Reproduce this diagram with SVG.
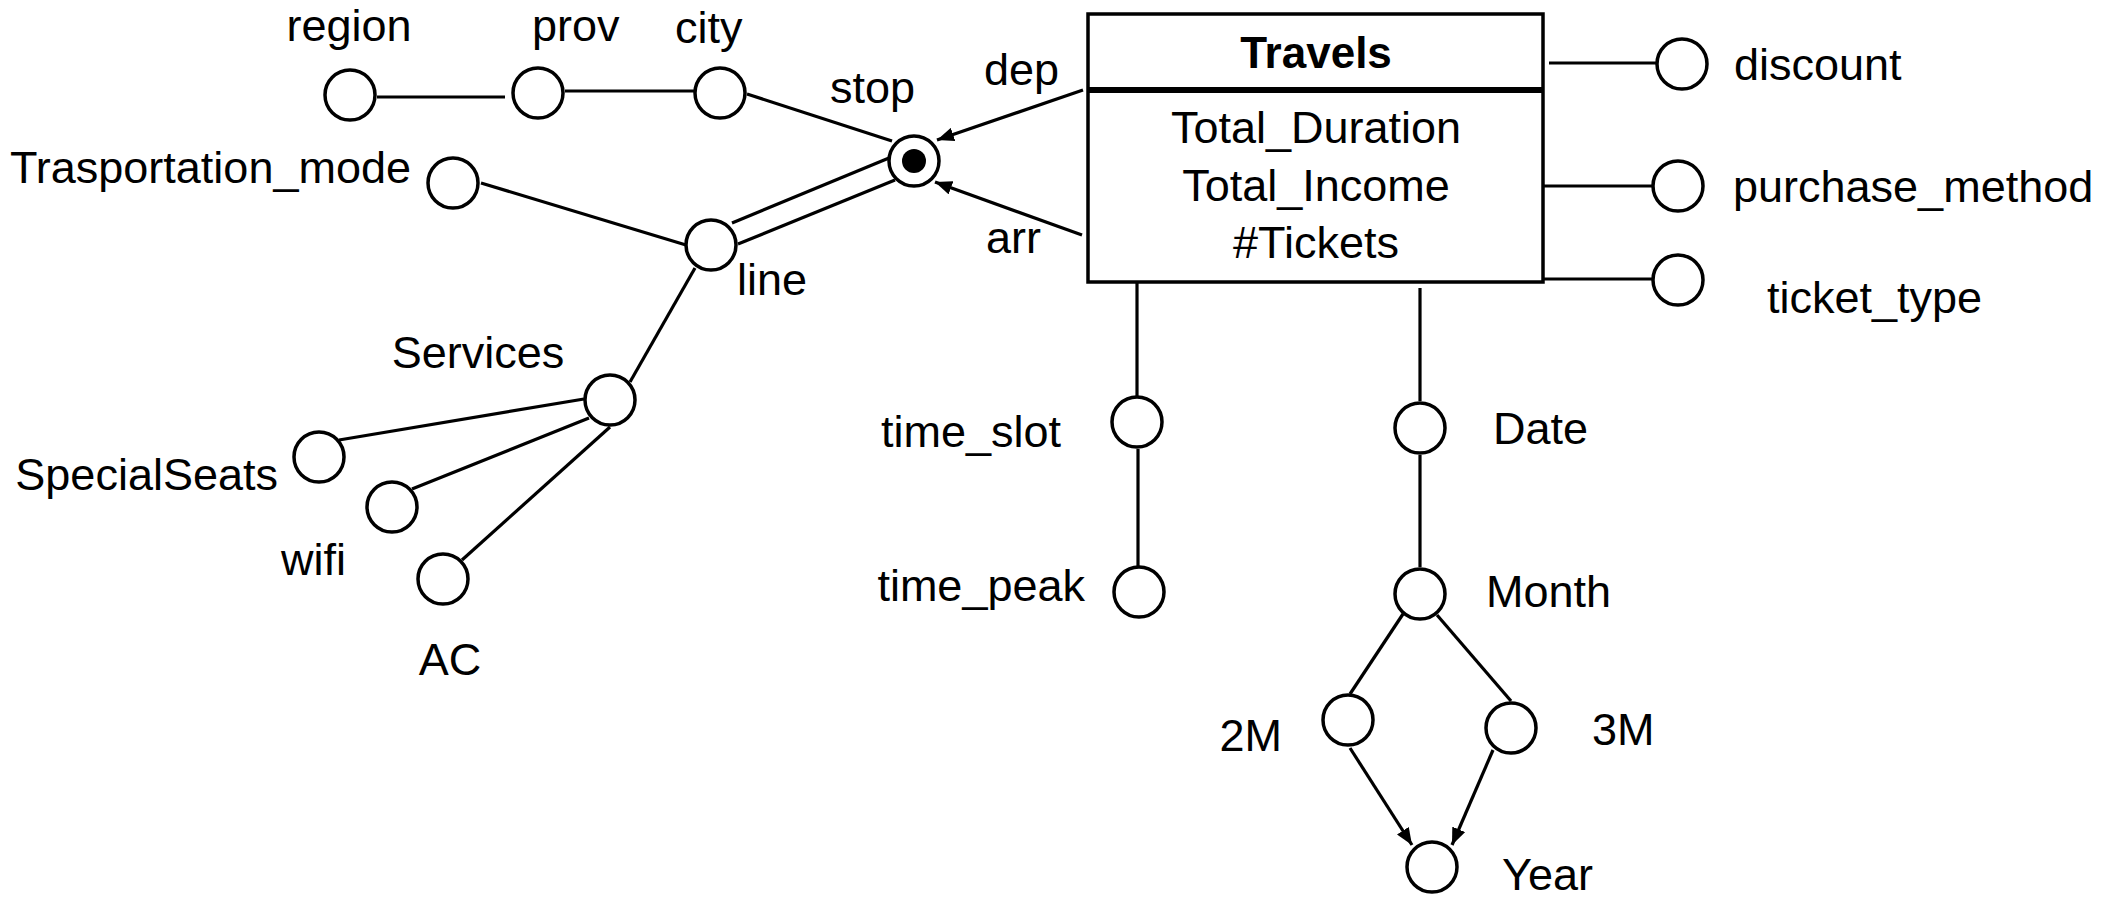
<svg xmlns="http://www.w3.org/2000/svg" width="2113" height="901" viewBox="0 0 2113 901">
<style>
.n{fill:#fff;stroke:#000;stroke-width:3.5}
.c line{stroke:#000;stroke-width:3.2;fill:none}
text{font-family:"Liberation Sans",Arial,sans-serif;font-size:45px;fill:#000}
.b{font-weight:bold;font-size:44px}
.m{text-anchor:middle}
.e{text-anchor:end}
</style>
<defs>
<marker id="ah" markerUnits="userSpaceOnUse" markerWidth="18" markerHeight="14" refX="17" refY="7" orient="auto">
<path d="M0,0 L17,7 L0,14 z" fill="#000"/>
</marker>
</defs>
<rect width="2113" height="901" fill="#fff"/>
<g id="connectors" class="c">
<line x1="377" y1="97" x2="505" y2="97"/>
<line x1="565" y1="91" x2="694" y2="91"/>
<line x1="747" y1="94" x2="892" y2="141"/>
<line x1="1083" y1="90" x2="937" y2="140" marker-end="url(#ah)"/>
<line x1="1082" y1="235" x2="935" y2="182" marker-end="url(#ah)"/>
<line x1="732" y1="223" x2="889" y2="158"/>
<line x1="738" y1="244" x2="895" y2="180"/>
<line x1="481" y1="183" x2="686" y2="245"/>
<line x1="695" y1="268" x2="630" y2="382"/>
<line x1="584" y1="399" x2="339" y2="440"/>
<line x1="589" y1="418" x2="412" y2="489"/>
<line x1="610" y1="427" x2="462" y2="560"/>
<line x1="1549" y1="63" x2="1656" y2="63"/>
<line x1="1543" y1="186" x2="1652" y2="186"/>
<line x1="1543" y1="279" x2="1652" y2="279"/>
<line x1="1137" y1="282" x2="1137" y2="396"/>
<line x1="1138" y1="449" x2="1138" y2="566"/>
<line x1="1420" y1="288" x2="1420" y2="401"/>
<line x1="1420" y1="455" x2="1420" y2="567"/>
<line x1="1403" y1="614" x2="1350" y2="694"/>
<line x1="1437" y1="615" x2="1511" y2="701"/>
<line x1="1350" y1="748" x2="1412" y2="845" marker-end="url(#ah)"/>
<line x1="1493" y1="750" x2="1452" y2="845" marker-end="url(#ah)"/>
</g>
<g id="travels">
<rect x="1088" y="14" width="455" height="268" fill="#fff" stroke="#000" stroke-width="3.5"/>
<line x1="1088" y1="90" x2="1543" y2="90" stroke="#000" stroke-width="6"/>
<text class="b m" x="1316" y="68">Travels</text>
<text class="m" x="1316" y="143">Total_Duration</text>
<text class="m" x="1316" y="201">Total_Income</text>
<text class="m" x="1316" y="258">#Tickets</text>
</g>
<g id="region"><circle class="n" cx="350" cy="95" r="25"/><text class="m" x="349" y="41">region</text></g>
<g id="prov"><circle class="n" cx="538" cy="93" r="25"/><text x="532" y="41">prov</text></g>
<g id="city"><circle class="n" cx="720" cy="93" r="25"/><text x="675" y="43">city</text></g>
<g id="stop"><circle class="n" cx="914" cy="161" r="25"/><circle cx="914" cy="161" r="12" fill="#000"/><text x="830" y="103">stop</text></g>
<g id="dep-label"><text x="984" y="85">dep</text></g>
<g id="arr-label"><text x="986" y="253">arr</text></g>
<g id="trasportation_mode"><circle class="n" cx="453" cy="183" r="25"/><text class="e" x="411" y="183">Trasportation_mode</text></g>
<g id="line"><circle class="n" cx="711" cy="245" r="25"/><text x="737" y="295">line</text></g>
<g id="services"><circle class="n" cx="610" cy="400" r="25"/><text class="m" x="478" y="368">Services</text></g>
<g id="specialseats"><circle class="n" cx="319" cy="457" r="25"/><text class="e" x="278" y="490">SpecialSeats</text></g>
<g id="wifi"><circle class="n" cx="392" cy="507" r="25"/><text class="e" x="346" y="575">wifi</text></g>
<g id="ac"><circle class="n" cx="443" cy="579" r="25"/><text class="m" x="450" y="675">AC</text></g>
<g id="discount"><circle class="n" cx="1682" cy="64" r="25"/><text x="1734" y="80">discount</text></g>
<g id="purchase_method"><circle class="n" cx="1678" cy="186" r="25"/><text x="1733" y="202">purchase_method</text></g>
<g id="ticket_type"><circle class="n" cx="1678" cy="280" r="25"/><text x="1767" y="313">ticket_type</text></g>
<g id="time_slot"><circle class="n" cx="1137" cy="422" r="25"/><text class="e" x="1061" y="447">time_slot</text></g>
<g id="time_peak"><circle class="n" cx="1139" cy="592" r="25"/><text class="e" x="1085" y="601">time_peak</text></g>
<g id="date"><circle class="n" cx="1420" cy="428" r="25"/><text x="1493" y="444">Date</text></g>
<g id="month"><circle class="n" cx="1420" cy="594" r="25"/><text x="1486" y="607">Month</text></g>
<g id="m2"><circle class="n" cx="1348" cy="720" r="25"/><text class="e" x="1282" y="751">2M</text></g>
<g id="m3"><circle class="n" cx="1511" cy="728" r="25"/><text x="1592" y="745">3M</text></g>
<g id="year"><circle class="n" cx="1432" cy="867" r="25"/><text x="1502" y="890">Year</text></g>
</svg>
